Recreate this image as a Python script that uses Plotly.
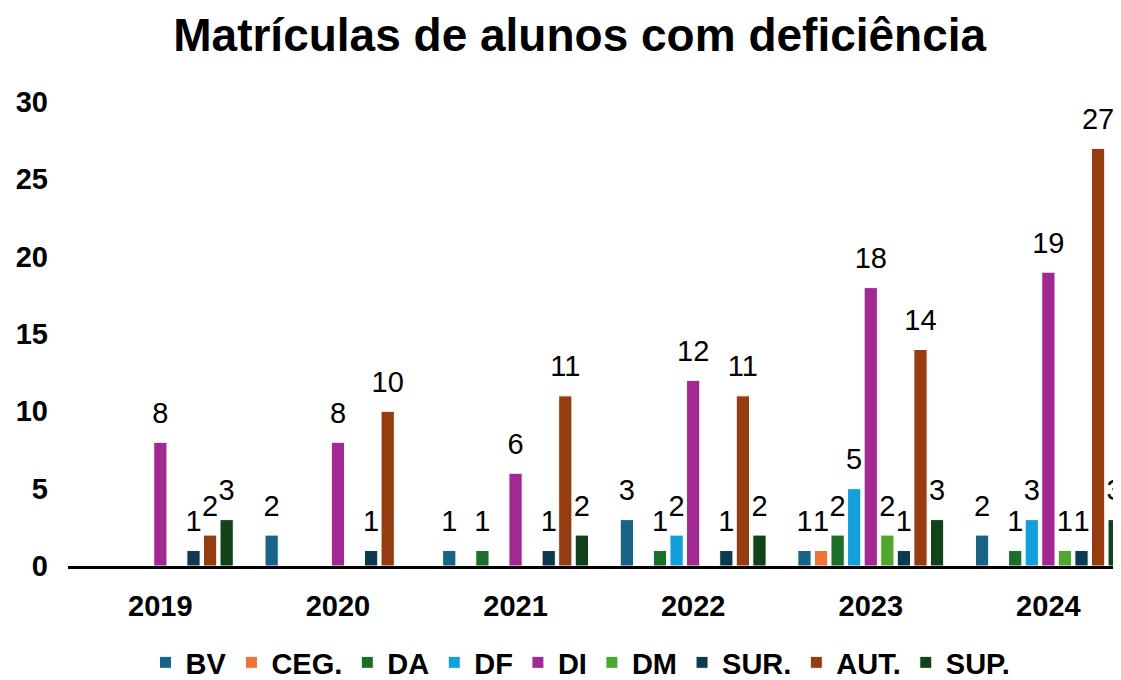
import plotly.graph_objects as go

years = ["2019", "2020", "2021", "2022", "2023", "2024"]
series_names = ["BV", "CEG.", "DA", "DF", "DI", "DM", "SUR.", "AUT.", "SUP."]
BV = [None, 2, 1, 3, 1, 2]
CEG = [None, None, None, None, 1, None]
DA = [None, None, 1, 1, 2, 1]
DF = [None, None, None, 2, 5, 3]
DI = [8, 8, 6, 12, 18, 19]
DM = [None, None, None, None, 2, 1]
SUR = [1, 1, 1, 1, 1, 1]
AUT = [2, 10, 11, 11, 14, 27]
SUP = [3, None, 2, 2, 3, 3]
colors = ["#196386", "#ED7434", "#1B6F2B", "#139FD9", "#A12A92",
          "#4EA72E", "#0E3A50", "#953D10", "#124219"]
values = [BV, CEG, DA, DF, DI, DM, SUR, AUT, SUP]

FONT = "Liberation Sans, Arial"

fig = go.Figure()
for name, vals, col in zip(series_names, values, colors):
    fig.add_trace(go.Bar(
        x=years, y=vals, name=name, offsetgroup=name,
        marker=dict(color=col, line=dict(color="white", width=1)),
    ))
for name, vals in zip(series_names, values):
    fig.add_trace(go.Scatter(
        x=years, y=vals, offsetgroup=name, mode="markers+text",
        text=[("" if v is None else str(v)) for v in vals],
        textposition="top center", cliponaxis=False, showlegend=False,
        hoverinfo="skip",
        marker=dict(size=18, opacity=0),
        textfont=dict(family=FONT, size=29, color="#000000"),
    ))

fig.update_layout(
    width=1121, height=680,
    barmode="group", bargap=0.16, bargroupgap=0.2,
    scattermode="group", scattergap=0.16,
    plot_bgcolor="white", paper_bgcolor="white",
    margin=dict(l=60, r=0, t=94, b=122),
    title=dict(text="<b>Matrículas de alunos com deficiência</b>",
               x=0.51, xanchor="center", y=0.96, yanchor="middle",
               font=dict(family=FONT, size=46, color="#000000")),
    font=dict(family=FONT, color="#000000"),
    legend=dict(orientation="h", x=0.483, xanchor="center", y=-0.209, yanchor="middle",
                font=dict(family=FONT, size=29, color="#000000", weight="bold"),
                itemwidth=30, traceorder="normal"),
    xaxis=dict(range=[-0.52, 5.454], showgrid=False, showline=True, linecolor="#000000",
               linewidth=2.5, ticks="", ticklabelstandoff=12, automargin=False,
               tickfont=dict(family=FONT, size=29, color="#000000", weight="bold")),
    yaxis=dict(range=[0, 30], showgrid=False, zeroline=False, showline=False,
               tickvals=[0, 5, 10, 15, 20, 25, 30], ticks="", ticklabelstandoff=19,
               automargin=False,
               tickfont=dict(family=FONT, size=29, color="#000000", weight="bold")),
)
fig.write_html("out.html")
